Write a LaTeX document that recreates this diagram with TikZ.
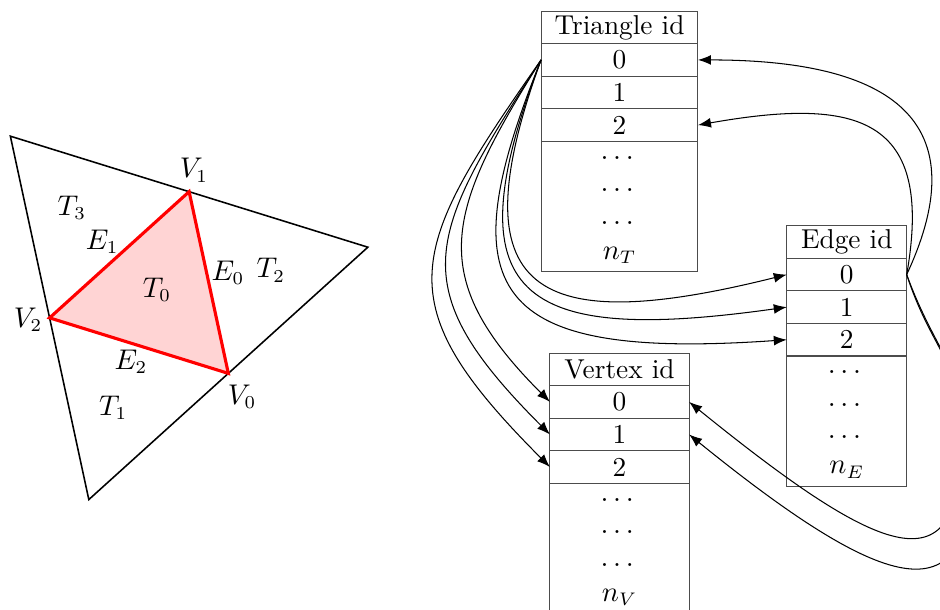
\documentclass[tikz,border=0pt]{standalone}
\usepackage{amsmath}
\usepackage{tikz}
\usetikzlibrary{arrows.meta, positioning, calc}

\tikzset{
    cell/.style={draw=black!70, minimum height=0.44cm, inner sep=0pt, outer sep=0pt},
    dotrow/.style={minimum height=0.44cm, inner sep=0pt, outer sep=0pt},
    frame/.style={draw=black!70},
}

\begin{document}
\begin{tikzpicture}[>={Latex[length=5pt, width=3.8pt]}, every node/.style={font=\fontsize{10.5}{12.6}\selectfont}]
    \useasboundingbox (0, 0) rectangle (12.7, 8.24);
    \clip (0, 0) rectangle (12.7, 8.24);

    % mesh around T0
    \coordinate (A) at (0.14, 6.40);
    \coordinate (B) at (4.97, 4.90);
    \coordinate (C) at (1.20, 1.49);

    \coordinate (V1) at ($(A)!0.5!(B)$);
    \coordinate (V0) at ($(B)!0.5!(C)$);
    \coordinate (V2) at ($(A)!0.5!(C)$);

    \draw[semithick] (A) -- (B) -- (C) -- cycle;
    \draw[very thick, red, fill=red!17] (V0) -- (V1) -- (V2) -- cycle;

    \node (lV1) at (2.62, 5.94) {$V_1$};
    \node (lV2) at (0.38, 3.92) {$V_2$};
    \node (lV0) at (3.27, 2.88) {$V_0$};
    \node (lT0) at (2.12, 4.32) {$T_0$};
    \node (lT1) at (1.53, 2.73) {$T_1$};
    \node (lT2) at (3.66, 4.59) {$T_2$};
    \node (lT3) at (0.97, 5.43) {$T_3$};
    \node (lE0) at (3.08, 4.55) {$E_0$};
    \node (lE1) at (1.38, 4.97) {$E_1$};
    \node (lE2) at (1.77, 3.35) {$E_2$};

    % tables
    \pgfmathsetmacro{\triw}{2.12}
    \pgfmathsetmacro{\edgw}{1.62}
    \pgfmathsetmacro{\verw}{1.88}

    \node[cell, minimum width=\triw cm, anchor=north] (tri-h) at (8.37, 8.09) {Triangle id};
    \node[cell, minimum width=\triw cm, below=0pt of tri-h] (tri-0) {0};
    \node[cell, minimum width=\triw cm, below=0pt of tri-0] (tri-1) {1};
    \node[cell, minimum width=\triw cm, below=0pt of tri-1] (tri-2) {2};
    \node[dotrow, minimum width=\triw cm, below=0pt of tri-2] (tri-d1) {$\dots$};
    \node[dotrow, minimum width=\triw cm, below=0pt of tri-d1] (tri-d2) {$\dots$};
    \node[dotrow, minimum width=\triw cm, below=0pt of tri-d2] (tri-d3) {$\dots$};
    \node[dotrow, minimum width=\triw cm, below=0pt of tri-d3] (tri-n) {$n_T$};
    \draw[frame] (tri-2.south west) rectangle (tri-n.south east);

    \node[cell, minimum width=\edgw cm, anchor=north] (edg-h) at (11.44, 5.19) {Edge id};
    \node[cell, minimum width=\edgw cm, below=0pt of edg-h] (edg-0) {0};
    \node[cell, minimum width=\edgw cm, below=0pt of edg-0] (edg-1) {1};
    \node[cell, minimum width=\edgw cm, below=0pt of edg-1] (edg-2) {2};
    \node[dotrow, minimum width=\edgw cm, below=0pt of edg-2] (edg-d1) {$\dots$};
    \node[dotrow, minimum width=\edgw cm, below=0pt of edg-d1] (edg-d2) {$\dots$};
    \node[dotrow, minimum width=\edgw cm, below=0pt of edg-d2] (edg-d3) {$\dots$};
    \node[dotrow, minimum width=\edgw cm, below=0pt of edg-d3] (edg-n) {$n_E$};
    \draw[frame] (edg-2.south west) rectangle (edg-n.south east);

    \node[cell, minimum width=\verw cm, anchor=north] (ver-h) at (8.37, 3.47) {Vertex id};
    \node[cell, minimum width=\verw cm, below=0pt of ver-h] (ver-0) {0};
    \node[cell, minimum width=\verw cm, below=0pt of ver-0] (ver-1) {1};
    \node[cell, minimum width=\verw cm, below=0pt of ver-1] (ver-2) {2};
    \node[dotrow, minimum width=\verw cm, below=0pt of ver-2] (ver-d1) {$\dots$};
    \node[dotrow, minimum width=\verw cm, below=0pt of ver-d1] (ver-d2) {$\dots$};
    \node[dotrow, minimum width=\verw cm, below=0pt of ver-d2] (ver-d3) {$\dots$};
    \node[dotrow, minimum width=\verw cm, below=0pt of ver-d3] (ver-n) {$n_V$};
    \draw[frame] (ver-2.south west) rectangle (ver-n.south east);

    % triangle -> vertices, edges
    \draw[->] (tri-0.west) .. controls +(238:2.41) and +(135:2.41) .. (ver-0.west);
    \draw[->] (tri-0.west) .. controls +(237:2.84) and +(135:2.84) .. (ver-1.west);
    \draw[->] (tri-0.west) .. controls +(235:3.16) and +(135:3.16) .. (ver-2.west);
    \draw[->] (tri-0.west) .. controls +(250:3.38) and +(194:3.51) .. (edg-0.west);
    \draw[->] (tri-0.west) .. controls +(249:3.45) and +(188:3.65) .. (edg-1.west);
    \draw[->] (tri-0.west) .. controls +(248:3.38) and +(184:4.05) .. (edg-2.west);

    % edge -> triangles, vertices
    \draw[->] (edg-0.east) .. controls +(65:2.43) and +(0:2.43) .. (tri-0.east);
    \draw[->] (edg-0.east) .. controls +(80:2.16) and +(10:2.2) .. (tri-2.east);
    \draw[->] (edg-0.east) to[out=-72, in=90, distance=1.1cm] ++(0.74, -2.24)
        .. controls +(-90:2.03) and +(-39:3.38) .. (ver-0.east);
    \draw[->] (edg-0.east) to[out=-70, in=90, distance=1.2cm] ++(0.88, -2.58)
        .. controls +(-90:2.03) and +(-39:3.51) .. (ver-1.east);

\end{tikzpicture}
\end{document}
